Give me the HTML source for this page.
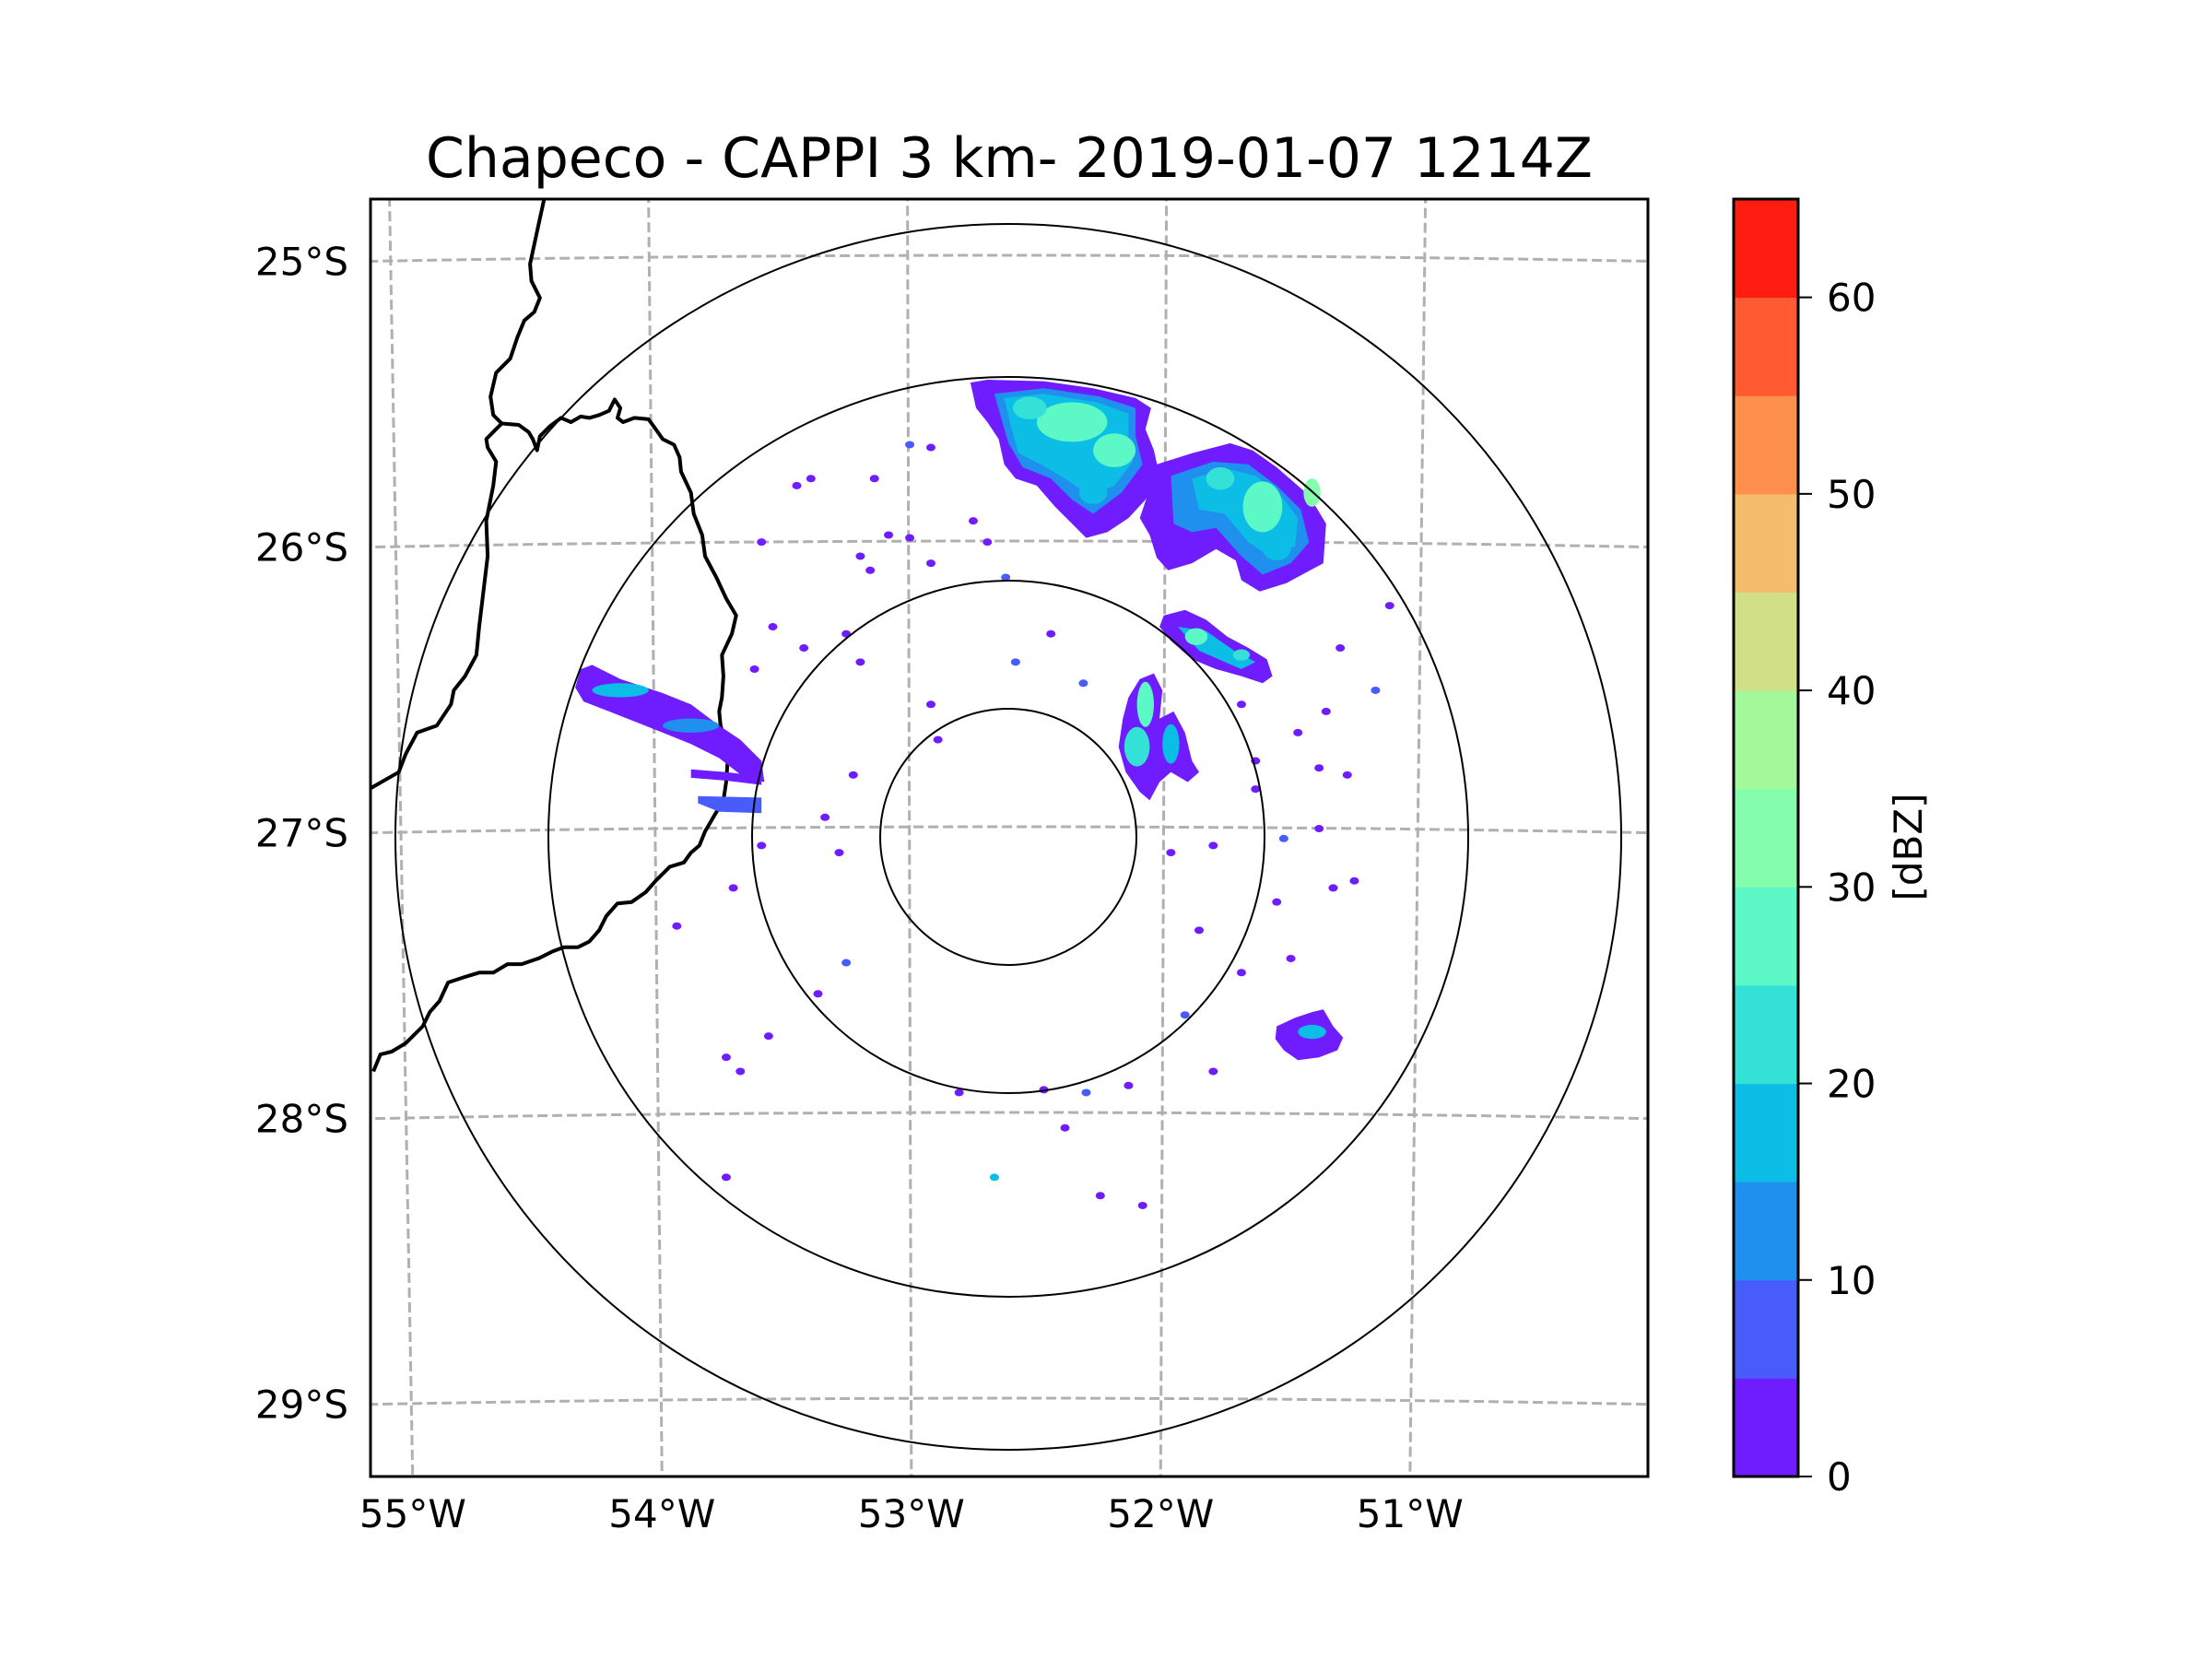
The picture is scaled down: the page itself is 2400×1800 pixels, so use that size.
<!DOCTYPE html>
<html><head><meta charset="utf-8"><style>
html,body{margin:0;padding:0;background:#fff;}
svg{display:block;font-family:"DejaVu Sans","Liberation Sans",sans-serif;}
</style></head><body>
<svg id="fig" width="2400" height="1800" viewBox="0 0 2400 1800" xmlns="http://www.w3.org/2000/svg">
<rect width="2400" height="1800" fill="#fff"/>
<text x="1095" y="192" font-size="60" text-anchor="middle">Chapeco - CAPPI 3 km- 2019-01-07 1214Z</text>
<defs><clipPath id="axclip"><rect x="402" y="216" width="1386" height="1386"/></clipPath></defs>
<g id="map" clip-path="url(#axclip)"></g>
<rect x="402" y="216" width="1386" height="1386" fill="none" stroke="#000" stroke-width="3"/>
<g id="ticks"></g>
<g id="cbar"></g>
<text x="0" y="0" font-size="42" text-anchor="middle" transform="translate(2085,919) rotate(-90)">[dBZ]</text>
</svg>
<script>
// ---- data ----
const cbarLevels = [0,5,10,15,20,25,30,35,40,45,50,55,60,65];
const cbarColors = ["#6f1cff","#485bfb","#2090ee","#0cbee6","#33e1d6","#5cf8c6","#84fdad","#a3f99a","#d1df87","#f3bd6b","#ff8f4d","#ff5a31","#ff1d12"];
const cbarTicks = [0,10,20,30,40,50,60];
const lonTicks = [-55,-54,-53,-52,-51];
const latTicks = [-25,-26,-27,-28,-29];
const rangeRings = [139,278,499,665];
// echo polygons: display-coord points + dBZ
const echoPolys = [
 {dbz:2,p:[[688,272],[700,270],[740,271],[775,276],[805,283],[816,290],[812,305],[818,320],[822,338],[812,355],[800,368],[785,378],[770,382],[760,372],[748,360],[735,345],[720,340],[712,330],[708,312],[700,300],[692,290]]},
 {dbz:12,p:[[705,280],[740,276],[780,282],[805,290],[805,310],[810,330],[795,350],[775,365],[760,355],[745,340],[725,332],[715,315],[710,298]]},
 {dbz:17,p:[[712,283],[740,280],[778,286],[800,294],[800,312],[803,328],[790,345],[772,352],[755,340],[738,330],[722,322],[716,300]]},
 {dbz:2,p:[[820,330],[845,322],[872,315],[888,320],[905,332],[928,352],[940,372],[938,400],[925,407],[912,414],[893,420],[880,412],[876,398],[862,390],[845,400],[828,405],[820,396],[815,380],[808,368],[814,350]]},
 {dbz:12,p:[[830,338],[860,328],[885,330],[905,345],[922,362],[928,385],[915,400],[895,408],[880,395],[862,375],[845,378],[832,372]]},
 {dbz:17,p:[[845,340],[870,333],[890,338],[908,352],[920,368],[918,388],[900,395],[885,385],[868,365],[850,362]]},
 {dbz:2,p:[[825,437],[840,433],[855,440],[870,452],[885,460],[898,468],[902,480],[895,485],[880,480],[862,475],[845,468],[830,455],[822,445]]},
 {dbz:15,p:[[835,445],[855,448],[875,462],[890,470],[880,475],[850,462]]},
 {dbz:2,p:[[808,482],[818,478],[824,490],[822,510],[832,505],[840,520],[845,540],[850,548],[842,555],[830,548],[822,555],[815,568],[808,562],[798,548],[793,530],[796,510],[800,495]]},
 {dbz:2,p:[[412,475],[420,472],[440,482],[470,492],[490,500],[510,515],[525,525],[540,540],[542,555],[528,552],[510,538],[490,528],[470,520],[450,512],[432,505],[414,498],[408,488]]},
 {dbz:3,p:[[490,546],[515,548],[540,551],[540,557],[515,554],[490,552]]},
 {dbz:8,p:[[495,565],[540,566],[540,577],[510,576],[495,570]]},
 {dbz:2,p:[[905,728],[918,722],[930,718],[938,716],[945,728],[952,736],[948,745],[935,750],[920,752],[910,745],[904,737]]}
];
const coreX = [760,790,730,775,895,865,905,848,812,806,830,440,490,930,930,880];
const coreY = [300,320,290,350,360,340,390,452,500,530,528,490,515,732,350,465];
const coreRx = [25,15,12,10,14,10,10,8,6,9,6,20,20,10,6,6];
const coreRy = [14,12,8,8,18,8,8,6,16,14,14,5,5,5,10,4];
const coreDbz = [27,25,22,18,28,22,18,28,25,22,15,15,12,15,33,24];
const speckX = [565,575,620,645,660,610,617,630,645,660,690,700,713,540,548,535,570,600,610,720,745,768,660,665,605,585,595,520,480,540,830,860,910,935,945,960,975,985,950,920,935,955,890,600,580,515,525,545,680,740,770,800,840,860,880,915,515,705,780,810,755,850,905,890,940,880];
const speckY = [345,340,340,316,318,395,405,380,382,400,370,385,410,385,445,475,460,450,470,470,450,485,500,525,550,580,605,630,657,600,605,600,595,588,630,625,490,430,460,520,545,550,560,683,705,750,760,735,775,773,775,770,720,760,690,680,835,835,848,855,800,660,640,540,505,500];
const speckDbz = [3,3,3,8,3,3,3,3,3,3,3,3,8,3,3,3,3,3,3,8,3,8,3,3,3,3,3,3,3,3,3,3,8,3,3,3,8,3,3,3,3,3,3,8,3,3,3,3,3,3,8,3,8,3,3,3,3,18,3,3,3,3,3,3,3,3];
// ---- helpers ----
const NS="http://www.w3.org/2000/svg";
const map=document.getElementById('map'), tk=document.getElementById('ticks'), cb=document.getElementById('cbar');
function mk(tag,attrs,parent){const e=document.createElementNS(NS,tag);for(const k in attrs)e.setAttribute(k,attrs[k]);parent.appendChild(e);return e;}
const X=d=>402+(d-263)*1.5315, Y=d=>216+(d-142)*1.5315;
const CX=1097, RHO0=36500, YC=897, NN=0.433, DEG=Math.PI/180, LON0=-52.6;
function proj(lon,lat){const r=RHO0+(lat+27)*310, t=NN*(lon-LON0)*DEG;return [CX+r*Math.sin(t), YC+RHO0-r*Math.cos(t)];}
function colorFor(v){for(let i=0;i<cbarColors.length;i++){if(v<cbarLevels[i+1])return cbarColors[i];}return cbarColors[cbarColors.length-1];}
// gridlines
lonTicks.forEach(lon=>{let d='';for(let lat=-24;lat>=-30;lat-=0.25){const p=proj(lon,lat);d+=(d?'L':'M')+p[0].toFixed(1)+' '+p[1].toFixed(1);}
 const e=mk('path',{d:d,fill:'none',stroke:'#b0b0b0','stroke-width':3,'stroke-dasharray':'11 5'},map);
 
 });
latTicks.forEach(lat=>{let d='';for(let lon=-56;lon<=-49;lon+=0.1){const p=proj(lon,lat);d+=(d?'L':'M')+p[0].toFixed(1)+' '+p[1].toFixed(1);}
 const e=mk('path',{d:d,fill:'none',stroke:'#b0b0b0','stroke-width':3,'stroke-dasharray':'11 5'},map);
 
 });
// borders
const b1=[[386,142],[381,165],[376,188],[377,200],[383,212],[379,222],[372,228],[367,240],[362,255],[352,265],[348,282],[350,295],[356,301],[352,305],[345,312],[346,318],[352,328],[350,345],[345,370],[346,395],[343,420],[340,445],[338,465],[330,480],[322,490],[320,500],[310,515],[296,520],[288,535],[283,548],[262,560]];
const b2=[[356,301],[368,302],[375,307],[378,312],[381,320],[383,310],[390,303],[398,297],[405,300],[412,296],[418,297],[425,295],[432,292],[436,284],[440,290],[438,297],[442,300],[450,297],[460,298],[465,305],[470,312],[478,316],[482,325],[483,335],[490,350],[492,365],[498,380],[500,395],[508,410],[515,425],[522,437],[519,450],[512,465],[513,480],[512,495],[510,505],[511,515],[514,525],[516,540],[515,555],[513,568],[507,578],[500,590],[496,600],[490,605],[485,612],[475,615],[465,625],[458,633],[448,640],[438,641],[430,650],[425,660],[418,668],[410,672],[400,672],[392,675],[382,680],[370,684],[360,684],[350,690],[340,690],[330,693],[318,697],[312,710],[305,718],[300,728],[288,740],[278,746],[270,748],[265,760]];
[b1,b2].forEach((b,i)=>{const e=mk('path',{d:'M'+b.map(p=>X(p[0]).toFixed(1)+' '+Y(p[1]).toFixed(1)).join('L'),fill:'none',stroke:'#000','stroke-width':4,'stroke-linejoin':'round'},map);
 
 });
// echoes
echoPolys.forEach(o=>{const e=mk('path',{d:'M'+o.p.map(p=>X(p[0]).toFixed(1)+' '+Y(p[1]).toFixed(1)).join('L')+'Z',fill:colorFor(o.dbz)},map);
 
 });
coreX.forEach((cx,i)=>{const e=mk('ellipse',{cx:X(cx),cy:Y(coreY[i]),rx:coreRx[i]*1.53,ry:coreRy[i]*1.53,fill:colorFor(coreDbz[i])},map);
 
 });
speckX.forEach((sx,i)=>{const e=mk('ellipse',{cx:X(sx),cy:Y(speckY[i]),rx:5,ry:4,fill:colorFor(speckDbz[i])},map);
 
 });
// range rings
rangeRings.forEach(r=>{const e=mk('circle',{cx:1094,cy:908,r:r,fill:'none',stroke:'#000','stroke-width':2},map);
 
 });
// tick labels
lonTicks.forEach(lon=>{const p=proj(lon,-29.29);const t=mk('text',{x:p[0].toFixed(1),y:1657,'font-size':42,'text-anchor':'middle'},tk);t.textContent=Math.abs(lon)+'°W';
 
 });
latTicks.forEach(lat=>{const lon0=LON0+Math.asin((402-CX)/(RHO0+(lat+27)*310))/DEG/NN;const p=proj(lon0,lat);const t=mk('text',{x:378,y:(p[1]+15).toFixed(1),'font-size':42,'text-anchor':'end'},tk);t.textContent=Math.abs(lat)+'°S';
 
 });
// colorbar
const cbTop=216, cbBot=1602, vmin=cbarLevels[0], vmax=cbarLevels[cbarLevels.length-1];
const cy=v=>cbBot-(v-vmin)/(vmax-vmin)*(cbBot-cbTop);
cbarColors.forEach((c,i)=>{const e=mk('rect',{x:1881,y:cy(cbarLevels[i+1]),width:70,height:cy(cbarLevels[i])-cy(cbarLevels[i+1])+0.5,fill:c},cb);
 
 });
const fr=mk('rect',{x:1881,y:cbTop,width:70,height:cbBot-cbTop,fill:'none',stroke:'#000','stroke-width':3},cb);


cbarTicks.forEach(v=>{const l=mk('line',{x1:1951,x2:1966,y1:cy(v),y2:cy(v),stroke:'#000','stroke-width':2},cb);
 
 
 const t=mk('text',{x:1982,y:cy(v)+15,'font-size':42},cb);t.textContent=v;
 
 });
</script>
</body></html>
